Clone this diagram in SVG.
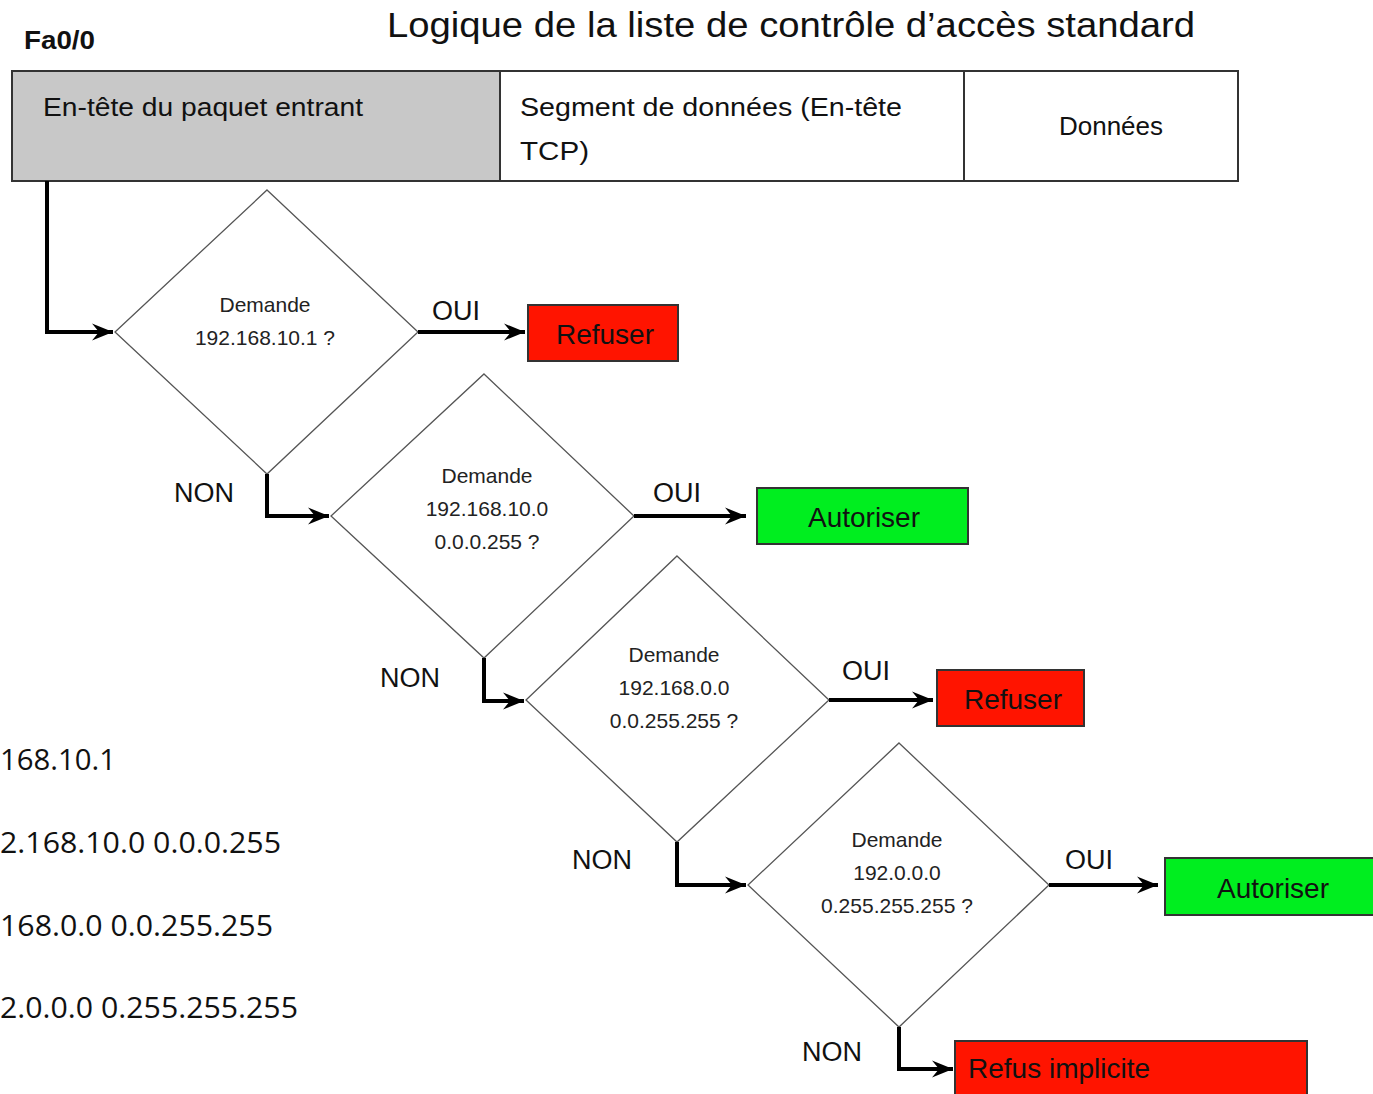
<svg xmlns="http://www.w3.org/2000/svg" width="1373" height="1094" viewBox="0 0 1373 1094">
  <style>
    .sans { font-family: "Liberation Sans", Arial, sans-serif; }
    .cell { fill: #ffffff; stroke: #333333; stroke-width: 2; }
    .hdr { fill: #c8c8c8; }
    .cellText { font-size: 26px; fill: #111111; }
    .dia { fill: #ffffff; stroke: #555555; stroke-width: 1.3; }
    .diaText { font-size: 21px; fill: #222222; text-anchor: middle; }
    .lbl { font-size: 27px; fill: #111111; }
    .box { stroke: #333333; stroke-width: 2; }
    .deny { fill: #ff1400; }
    .allow { fill: #00ee1f; }
    .boxText { font-size: 28px; fill: #111111; }
    .wire { fill: none; stroke: #000000; stroke-width: 4; marker-end: url(#arrow); }
    .acl { font-family: "Open Sans", "Liberation Sans", sans-serif; font-size: 29px; fill: #111111; }
  </style>
  <defs>
    <marker id="arrow" markerUnits="userSpaceOnUse" viewBox="-24 -12 26 24" refX="0" refY="0" markerWidth="26" markerHeight="24" orient="auto">
      <path d="M0,0 L-21,-8.5 L-14,0 L-21,8.5 Z" fill="#000000"/>
    </marker>
  </defs>

  <rect x="0" y="0" width="1373" height="1094" fill="#ffffff"/>

  <!-- titles -->
  <text class="sans" x="24" y="49" font-size="25" font-weight="bold" fill="#111111" textLength="71" lengthAdjust="spacingAndGlyphs">Fa0/0</text>
  <text class="sans" x="387" y="37" font-size="35" fill="#111111" textLength="808" lengthAdjust="spacingAndGlyphs">Logique de la liste de contrôle d’accès standard</text>

  <!-- packet layout -->
  <g id="packet">
    <rect class="cell hdr" x="12" y="71" width="488" height="110"/>
    <rect class="cell" x="500" y="71" width="464" height="110"/>
    <rect class="cell" x="964" y="71" width="274" height="110"/>
    <text class="sans cellText" x="43" y="116" textLength="320" lengthAdjust="spacingAndGlyphs">En-tête du paquet entrant</text>
    <text class="sans cellText" x="520" y="116" textLength="382" lengthAdjust="spacingAndGlyphs">Segment de données (En-tête</text>
    <text class="sans cellText" x="520" y="160" textLength="69" lengthAdjust="spacingAndGlyphs">TCP)</text>
    <text class="sans cellText" x="1111" y="135" text-anchor="middle">Données</text>
  </g>

  <!-- decisions -->
  <g id="test1">
    <polygon class="dia" points="267,190 418,332 267,474 115,332"/>
    <text class="sans diaText" x="265" y="312">Demande</text>
    <text class="sans diaText" x="265" y="345">192.168.10.1 ?</text>
  </g>
  <g id="test2">
    <polygon class="dia" points="484,374 634,516 484,658 331,516"/>
    <text class="sans diaText" x="487" y="483">Demande</text>
    <text class="sans diaText" x="487" y="516">192.168.10.0</text>
    <text class="sans diaText" x="487" y="549">0.0.0.255 ?</text>
  </g>
  <g id="test3">
    <polygon class="dia" points="677,556 829,700 677,842 526,700"/>
    <text class="sans diaText" x="674" y="662">Demande</text>
    <text class="sans diaText" x="674" y="695">192.168.0.0</text>
    <text class="sans diaText" x="674" y="728">0.0.255.255 ?</text>
  </g>
  <g id="test4">
    <polygon class="dia" points="899,743 1049,885 899,1027 748,885"/>
    <text class="sans diaText" x="897" y="847">Demande</text>
    <text class="sans diaText" x="897" y="880">192.0.0.0</text>
    <text class="sans diaText" x="897" y="913">0.255.255.255 ?</text>
  </g>

  <!-- outcomes -->
  <g id="deny1">
    <rect class="box deny" x="528" y="305" width="150" height="56"/>
    <text class="sans boxText" x="605" y="344" text-anchor="middle">Refuser</text>
  </g>
  <g id="permit1">
    <rect class="box allow" x="757" y="488" width="211" height="56"/>
    <text class="sans boxText" x="864" y="527" text-anchor="middle">Autoriser</text>
  </g>
  <g id="deny2">
    <rect class="box deny" x="937" y="670" width="147" height="56"/>
    <text class="sans boxText" x="1013" y="709" text-anchor="middle">Refuser</text>
  </g>
  <g id="permit2">
    <rect class="box allow" x="1165" y="858" width="212" height="57"/>
    <text class="sans boxText" x="1273" y="898" text-anchor="middle">Autoriser</text>
  </g>
  <g id="implicitDeny">
    <rect class="box deny" x="955" y="1041" width="352" height="60"/>
    <text class="sans boxText" x="968" y="1078">Refus implicite</text>
  </g>

  <!-- connectors -->
  <g id="connectors">
    <path class="wire" d="M47,181 V332 H113"/>
    <path class="wire" d="M418,332 H525"/>
    <path class="wire" d="M267,474 V516 H329"/>
    <path class="wire" d="M634,516 H746"/>
    <path class="wire" d="M484,658 V701 H524"/>
    <path class="wire" d="M829,700 H933"/>
    <path class="wire" d="M677,842 V885 H746"/>
    <path class="wire" d="M1049,885 H1158"/>
    <path class="wire" d="M899,1027 V1069 H953"/>
  </g>

  <!-- branch labels -->
  <g id="labels">
    <text class="sans lbl" x="432" y="320">OUI</text>
    <text class="sans lbl" x="174" y="502">NON</text>
    <text class="sans lbl" x="653" y="502">OUI</text>
    <text class="sans lbl" x="380" y="687">NON</text>
    <text class="sans lbl" x="842" y="680">OUI</text>
    <text class="sans lbl" x="572" y="869">NON</text>
    <text class="sans lbl" x="1065" y="869">OUI</text>
    <text class="sans lbl" x="802" y="1061">NON</text>
  </g>

  <!-- access list entries -->
  <g id="aclLines">
    <text class="acl" x="0" y="770" textLength="116" lengthAdjust="spacingAndGlyphs">168.10.1</text>
    <text class="acl" x="0" y="853" textLength="281" lengthAdjust="spacingAndGlyphs">2.168.10.0 0.0.0.255</text>
    <text class="acl" x="0" y="936" textLength="273" lengthAdjust="spacingAndGlyphs">168.0.0 0.0.255.255</text>
    <text class="acl" x="0" y="1018" textLength="298" lengthAdjust="spacingAndGlyphs">2.0.0.0 0.255.255.255</text>
  </g>
</svg>
